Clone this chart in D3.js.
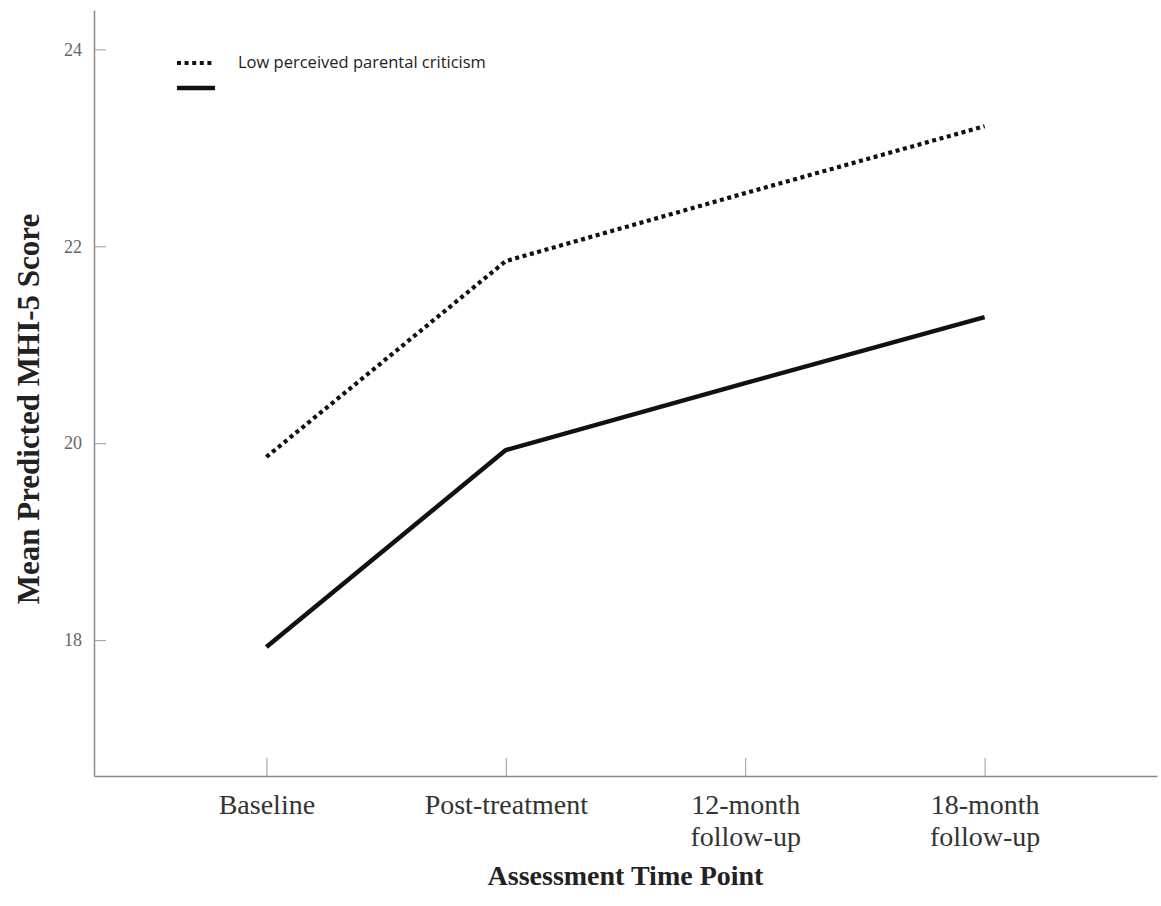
<!DOCTYPE html>
<html>
<head>
<meta charset="utf-8">
<script src="https://cdn.jsdelivr.net/npm/d3@7"></script>
<style>
  body { margin: 0; background: #fff; }
</style>
</head>
<body>
<div id="chart"></div>
<script>
// time points on the x axis
var timePoints = ["Baseline", "Post-treatment", "12-month follow-up", "18-month follow-up"];
// tick labels, one array of lines per time point
var tickLabels = [["Baseline"], ["Post-treatment"], ["12-month", "follow-up"], ["18-month", "follow-up"]];
// mean predicted MHI-5 scores
var lowCriticism = [19.86, 21.85, 22.54, 23.22];
var highCriticism = [17.93, 19.93, 20.61, 21.28];
var yTicks = [18, 20, 22, 24];
var seriesNames = ["Low perceived parental criticism", ""];

var series = [
  {name: seriesNames[0], values: lowCriticism, dash: "4,3.6", width: 4.2},
  {name: seriesNames[1], values: highCriticism, dash: null, width: 4.5}
];

var W = 1161, H = 906;
var plotLeft = 94, plotRight = 1157, plotTop = 10, plotBottom = 776;

var svg = d3.select("#chart")
  .append("svg")
    .attr("width", W)
    .attr("height", H);

// scales
var x = d3.scalePoint()
  .domain(timePoints)
  .range([plotLeft, plotRight])
  .padding(0.72);

var y = d3.scaleLinear()
  .domain([16.62, 24.4])
  .range([plotBottom, plotTop]);

// y axis
var yAxis = svg.append("g")
  .attr("transform", "translate(" + plotLeft + ",0)")
  .call(d3.axisLeft(y).tickValues(yTicks).tickSize(-12).tickSizeOuter(0).tickPadding(12));
yAxis.select(".domain").attr("stroke", "#8a8a8a").attr("stroke-width", 1.5);
yAxis.selectAll(".tick line").attr("stroke", "#9a9a9a").attr("stroke-width", 1);
yAxis.selectAll(".tick text")
  .attr("fill", "#666")
  .style("font-family", "'Liberation Serif', 'DejaVu Serif', serif")
  .style("font-size", "18px");

// x axis
var xAxis = svg.append("g")
  .attr("transform", "translate(0," + plotBottom + ")")
  .call(d3.axisBottom(x).tickSize(-18).tickSizeOuter(0));
xAxis.select(".domain").attr("stroke", "#8a8a8a").attr("stroke-width", 1.5);
xAxis.selectAll(".tick line").attr("stroke", "#9a9a9a").attr("stroke-width", 1);
xAxis.selectAll(".tick text").remove();
xAxis.selectAll(".tick")
  .append("text")
    .attr("fill", "#333")
    .attr("text-anchor", "middle")
    .style("font-family", "'Liberation Serif', 'DejaVu Serif', serif")
    .style("font-size", "28px")
    .selectAll("tspan")
    .data(function(d, i) { return tickLabels[i]; })
    .enter()
    .append("tspan")
      .attr("x", 0)
      .attr("y", function(d, i) { return 38 + i * 32; })
      .text(function(d) { return d; });

// axis titles
svg.append("text")
  .attr("x", (plotLeft + plotRight) / 2)
  .attr("y", 885)
  .attr("text-anchor", "middle")
  .attr("fill", "#222")
  .style("font-family", "'Liberation Serif', 'DejaVu Serif', serif")
  .style("font-weight", "bold")
  .style("font-size", "28px")
  .text("Assessment Time Point");

svg.append("text")
  .attr("transform", "translate(39," + 409 + ")rotate(-90)")
  .attr("text-anchor", "middle")
  .attr("fill", "#222")
  .style("font-family", "'Liberation Serif', 'DejaVu Serif', serif")
  .style("font-weight", "bold")
  .style("font-size", "31px")
  .text("Mean Predicted MHI-5 Score");

// lines
var line = d3.line()
  .x(function(d, i) { return x(timePoints[i]); })
  .y(function(d) { return y(d); });

svg.selectAll(".series")
  .data(series)
  .enter()
  .append("path")
    .attr("class", "series")
    .attr("d", function(d) { return line(d.values); })
    .attr("fill", "none")
    .attr("stroke", "#111")
    .attr("stroke-width", function(d) { return d.width; })
    .attr("stroke-dasharray", function(d) { return d.dash; })
    .attr("stroke-linejoin", "round");

// legend
var legend = svg.selectAll(".legend")
  .data(series)
  .enter()
  .append("g")
    .attr("class", "legend")
    .attr("transform", function(d, i) { return "translate(177," + (63 + i * 25) + ")"; });

legend.append("line")
  .attr("x1", 0)
  .attr("x2", 38)
  .attr("stroke", "#111")
  .attr("stroke-width", function(d) { return d.width; })
  .attr("stroke-dasharray", function(d) { return d.dash; });

legend.append("text")
  .attr("x", 61)
  .attr("y", 5)
  .attr("fill", "#222")
  .style("font-family", "'Open Sans', 'Liberation Sans', sans-serif")
  .style("font-size", "16.5px")
  .text(function(d) { return d.name; });
</script>
</body>
</html>
